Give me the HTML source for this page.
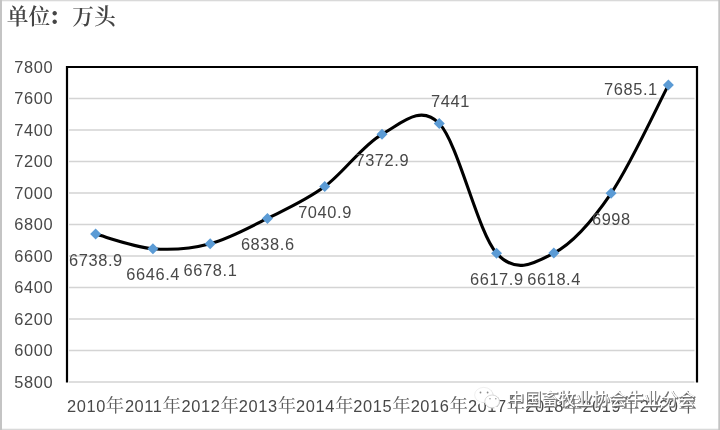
<!DOCTYPE html>
<html lang="zh"><head><meta charset="utf-8"><title>chart</title>
<style>
html,body{margin:0;padding:0;background:#fff;}
body{width:720px;height:430px;overflow:hidden;position:relative;}
svg{position:absolute;left:0;top:0;display:block}
.num{font-family:"Liberation Sans","Noto Serif CJK SC",sans-serif;font-size:16.4px;fill:#484848;letter-spacing:0.6px;}
.cj{font-family:"Noto Serif CJK SC","Noto Sans CJK SC",serif;font-size:18.4px;fill:#5a5a5a;letter-spacing:0;}
.title{font-family:"Liberation Serif","Noto Serif CJK SC",serif;font-size:21.7px;font-weight:600;fill:#454545;}
.wm{font-family:"Liberation Sans","Noto Sans CJK SC",sans-serif;font-size:17.1px;}
</style></head><body>
<svg width="720" height="430" viewBox="0 0 720 430">
<rect x="0" y="0" width="720" height="430" fill="#fff"/>
<!-- outer frame -->
<rect x="0" y="0" width="720" height="1.3" fill="#d9d9d9"/>
<rect x="0" y="428.7" width="720" height="1.3" fill="#d9d9d9"/>
<rect x="0" y="0" width="2" height="430" fill="#c4c4c4"/>
<rect x="718.3" y="0" width="1.7" height="430" fill="#c4c4c4"/>
<text class="title" x="6.7" y="24.2">单位<tspan font-weight="900" dx="-1.5">：</tspan><tspan dx="1.9">万头</tspan></text>

<rect x="69" y="381.25" width="625.5" height="1.5" fill="#d4d4d4"/>
<rect x="69" y="349.75" width="625.5" height="1.5" fill="#d4d4d4"/>
<rect x="69" y="318.25" width="625.5" height="1.5" fill="#d4d4d4"/>
<rect x="69" y="286.75" width="625.5" height="1.5" fill="#d4d4d4"/>
<rect x="69" y="255.25" width="625.5" height="1.5" fill="#d4d4d4"/>
<rect x="69" y="223.75" width="625.5" height="1.5" fill="#d4d4d4"/>
<rect x="69" y="192.25" width="625.5" height="1.5" fill="#d4d4d4"/>
<rect x="69" y="160.75" width="625.5" height="1.5" fill="#d4d4d4"/>
<rect x="69" y="129.25" width="625.5" height="1.5" fill="#d4d4d4"/>
<rect x="69" y="97.75" width="625.5" height="1.5" fill="#d4d4d4"/>
<path d="M67.0,382.5 V67.0 H697.0 V382.5" fill="none" stroke="#000" stroke-width="2.2" stroke-linejoin="miter"/>
<text class="num" x="53.2" y="387.80" text-anchor="end">5800</text>
<text class="num" x="53.2" y="356.30" text-anchor="end">6000</text>
<text class="num" x="53.2" y="324.80" text-anchor="end">6200</text>
<text class="num" x="53.2" y="293.30" text-anchor="end">6400</text>
<text class="num" x="53.2" y="261.80" text-anchor="end">6600</text>
<text class="num" x="53.2" y="230.30" text-anchor="end">6800</text>
<text class="num" x="53.2" y="198.80" text-anchor="end">7000</text>
<text class="num" x="53.2" y="167.30" text-anchor="end">7200</text>
<text class="num" x="53.2" y="135.80" text-anchor="end">7400</text>
<text class="num" x="53.2" y="104.30" text-anchor="end">7600</text>
<text class="num" x="53.2" y="72.80" text-anchor="end">7800</text>
<text class="num" x="95.64" y="412" text-anchor="middle">2010<tspan class="cj" dy="0.3">年</tspan></text>
<text class="num" x="152.91" y="412" text-anchor="middle">2011<tspan class="cj" dy="0.3">年</tspan></text>
<text class="num" x="210.18" y="412" text-anchor="middle">2012<tspan class="cj" dy="0.3">年</tspan></text>
<text class="num" x="267.45" y="412" text-anchor="middle">2013<tspan class="cj" dy="0.3">年</tspan></text>
<text class="num" x="324.73" y="412" text-anchor="middle">2014<tspan class="cj" dy="0.3">年</tspan></text>
<text class="num" x="382.00" y="412" text-anchor="middle">2015<tspan class="cj" dy="0.3">年</tspan></text>
<text class="num" x="439.27" y="412" text-anchor="middle">2016<tspan class="cj" dy="0.3">年</tspan></text>
<text class="num" x="496.55" y="412" text-anchor="middle">2017<tspan class="cj" dy="0.3">年</tspan></text>
<text class="num" x="553.82" y="412" text-anchor="middle">2018<tspan class="cj" dy="0.3">年</tspan></text>
<text class="num" x="611.09" y="412" text-anchor="middle">2019<tspan class="cj" dy="0.3">年</tspan></text>
<text class="num" x="668.36" y="412" text-anchor="middle">2020<tspan class="cj" dy="0.3">年</tspan></text>
<path d="M95.64,234.12 C105.18,236.55 133.82,247.10 152.91,248.69 C172.00,250.29 191.09,248.74 210.18,243.70 C229.27,238.65 248.36,227.94 267.45,218.42 C286.55,208.90 305.64,200.58 324.73,186.56 C343.82,172.53 362.91,144.77 382.00,134.27 C401.09,123.77 420.18,103.72 439.27,123.54 C458.36,143.36 477.45,231.59 496.55,253.18 C515.64,274.77 534.73,263.08 553.82,253.10 C572.91,243.12 592.00,221.32 611.09,193.31 C630.18,165.31 658.82,103.13 668.36,85.10" fill="none" stroke="#000" stroke-width="3.1" stroke-linecap="round" stroke-linejoin="round"/>
<path d="M95.64,228.62 L101.14,234.12 L95.64,239.62 L90.14,234.12 Z" fill="#5b9bd5"/>
<path d="M152.91,243.19 L158.41,248.69 L152.91,254.19 L147.41,248.69 Z" fill="#5b9bd5"/>
<path d="M210.18,238.20 L215.68,243.70 L210.18,249.20 L204.68,243.70 Z" fill="#5b9bd5"/>
<path d="M267.45,212.92 L272.95,218.42 L267.45,223.92 L261.95,218.42 Z" fill="#5b9bd5"/>
<path d="M324.73,181.06 L330.23,186.56 L324.73,192.06 L319.23,186.56 Z" fill="#5b9bd5"/>
<path d="M382.00,128.77 L387.50,134.27 L382.00,139.77 L376.50,134.27 Z" fill="#5b9bd5"/>
<path d="M439.27,118.04 L444.77,123.54 L439.27,129.04 L433.77,123.54 Z" fill="#5b9bd5"/>
<path d="M496.55,247.68 L502.05,253.18 L496.55,258.68 L491.05,253.18 Z" fill="#5b9bd5"/>
<path d="M553.82,247.60 L559.32,253.10 L553.82,258.60 L548.32,253.10 Z" fill="#5b9bd5"/>
<path d="M611.09,187.81 L616.59,193.31 L611.09,198.81 L605.59,193.31 Z" fill="#5b9bd5"/>
<path d="M668.36,79.60 L673.86,85.10 L668.36,90.60 L662.86,85.10 Z" fill="#5b9bd5"/>
<text class="num" x="95.94" y="265.5" text-anchor="middle">6738.9</text>
<text class="num" x="153.21" y="280" text-anchor="middle">6646.4</text>
<text class="num" x="210.48" y="275.6" text-anchor="middle">6678.1</text>
<text class="num" x="267.75" y="249.5" text-anchor="middle">6838.6</text>
<text class="num" x="325.03" y="217.8" text-anchor="middle">7040.9</text>
<text class="num" x="382.30" y="165.5" text-anchor="middle">7372.9</text>
<text class="num" x="450.50" y="107" text-anchor="middle">7441</text>
<text class="num" x="496.85" y="285" text-anchor="middle">6617.9</text>
<text class="num" x="554.12" y="285" text-anchor="middle">6618.4</text>
<text class="num" x="611.39" y="224.7" text-anchor="middle">6998</text>
<text class="num" x="630.90" y="94.7" text-anchor="middle">7685.1</text>
<g id="wm">
<!-- wechat icon -->
<g>
<ellipse cx="484.3" cy="395.5" rx="9.2" ry="7.6" fill="#cfcfcf"/>
<ellipse cx="483.8" cy="395" rx="9.2" ry="7.6" fill="#fff" stroke="#e6e6e6" stroke-width="0.6"/>
<path d="M478.5,401 L477,405.2 L482,402.2 Z" fill="#fff"/>
<ellipse cx="492.5" cy="401.8" rx="7.5" ry="6.6" fill="#bdbdbd"/>
<ellipse cx="492.1" cy="401.4" rx="7.3" ry="6.4" fill="#fff" stroke="#cdcdcd" stroke-width="0.7"/>
<path d="M496,406.5 L498.6,409.5 L493.8,407.6 Z" fill="#fff"/>
<circle cx="480.5" cy="392.5" r="0.9" fill="#8a8a8a"/>
<circle cx="487.6" cy="392.5" r="0.9" fill="#8a8a8a"/>
<circle cx="490" cy="398.8" r="0.8" fill="#9a9a9a"/>
<circle cx="495.8" cy="398.8" r="0.8" fill="#9a9a9a"/>
</g>
<text class="wm" x="507.8" y="406.0" fill="#666" stroke="#777" stroke-width="0.8">中国畜牧业协会牛业分会</text>
<text class="wm" x="507.1" y="405.3" fill="#fff">中国畜牧业协会牛业分会</text>
</g>
</svg></body></html>
